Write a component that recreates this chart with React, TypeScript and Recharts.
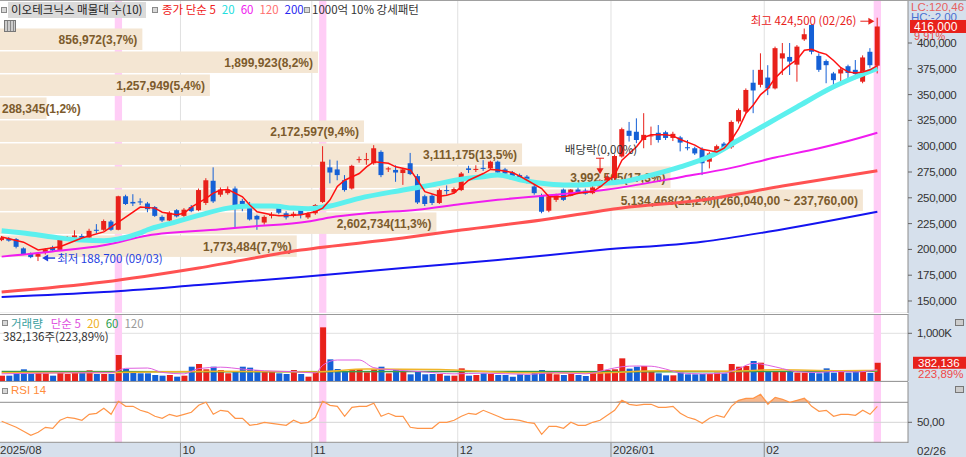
import {
  Area,
  Bar,
  CartesianGrid,
  Cell,
  ComposedChart,
  Line,
  ReferenceArea,
  ReferenceDot,
  ReferenceLine,
  XAxis,
  YAxis,
} from "recharts";

// trading days shown on the chart
const aug2025 = [27, 28, 29];
const sep2025 = [1, 2, 3, 4, 5, 8, 9, 10, 11, 12, 15, 16, 17, 18, 19, 22, 23, 24, 25, 26, 29, 30];
const oct2025 = [1, 2, 10, 13, 14, 15, 16, 17, 20, 21, 22, 23, 24, 27, 28, 29, 30, 31];
const nov2025 = [3, 4, 5, 6, 7, 10, 11, 12, 13, 14, 17, 18, 19, 20, 21, 24, 25, 26, 27, 28];
const dec2025 = [1, 2, 3, 4, 5, 8, 9, 10, 11, 12, 15, 16, 17, 18, 19, 22, 23, 24, 26, 29, 30];
const jan2026 = [2, 5, 6, 7, 8, 9, 12, 13, 14, 15, 16, 19, 20, 21, 22, 23, 26, 27, 28, 29, 30];
const feb2026 = [2, 3, 4, 5, 6, 9, 10, 11, 12, 13, 19, 20, 23, 24, 25, 26];

const tradingMonths: [string, number[]][] = [
  ["2025/08", aug2025],
  ["2025/09", sep2025],
  ["2025/10", oct2025],
  ["2025/11", nov2025],
  ["2025/12", dec2025],
  ["2026/01", jan2026],
  ["2026/02", feb2026],
];

const opens = [
  209000, 210500, 210000, 201000, 196000, 193000, 197000, 202000, 199500, 210000,
  211500, 213000, 211500, 219000, 219000, 227000, 219000, 251500, 246000, 246500,
  244500, 241000, 231500, 228000, 238000, 232500, 241000, 238000, 245000, 266500,
  253000, 254500, 259000, 247000, 244000, 232500, 226000, 232500, 241500, 235000,
  232500, 239000, 231000, 235000, 246000, 279500, 277500, 267000, 259000, 286500,
  286500, 283500, 294500, 277500, 277000, 274000, 283500, 271000, 251500, 252000,
  245000, 257500, 255000, 257500, 278500, 277000, 279000, 278500, 285000, 277500,
  274500, 272000, 270500, 261000, 252500, 237500, 248000, 258000, 252000, 258000,
  257000, 254500, 261000, 264500, 269000, 290000, 315000, 314000, 306000, 309500,
  313000, 313500, 308000, 308500, 299000, 298000, 297000, 285000, 294500, 302500,
  299000, 324000, 333500, 361500, 359500, 366500, 356000, 385000, 386500, 379000,
  403500, 417500, 387500, 382500, 370500, 370500, 377500, 374000, 362500, 391500,
  378000,
];

const highs = [
  213000, 212000, 211000, 202000, 197000, 196500, 201000, 203500, 210500, 213000,
  218500, 215000, 220000, 224500, 229000, 228500, 252000, 253000, 253500, 249500,
  246000, 242000, 233000, 237000, 239000, 240000, 243000, 259000, 269000, 279500,
  260000, 261000, 261000, 249000, 246000, 233500, 233000, 236000, 243000, 237000,
  236500, 241000, 236000, 244000, 300000, 287000, 286000, 272000, 282000, 290000,
  293500, 301000, 296000, 280000, 281500, 279000, 293500, 273000, 253000, 253500,
  259000, 262000, 260000, 275000, 281000, 281500, 286500, 286000, 286000, 279000,
  276000, 273500, 272000, 262500, 254000, 253000, 254000, 259000, 258500, 260000,
  259000, 261500, 268000, 273000, 292000, 318000, 323500, 327000, 332000, 319000,
  320500, 315000, 314000, 310000, 306000, 299500, 299000, 294500, 301500, 304000,
  325000, 336500, 356000, 374000, 390000, 378500, 396500, 400000, 400000, 398000,
  414000, 418000, 390000, 384000, 372000, 376000, 379000, 383500, 388000, 395000,
  424500,
];

const lows = [
  208000, 207500, 201000, 194500, 191500, 188700, 195000, 198000, 199000, 208500,
  209000, 208500, 211000, 215500, 218000, 218000, 218500, 243000, 242000, 243000,
  236000, 231500, 226500, 227000, 231000, 231500, 236000, 237000, 243000, 245000,
  251000, 253000, 221000, 237000, 228000, 219000, 224000, 230000, 234000, 229000,
  231000, 230000, 229500, 233500, 245000, 264000, 267000, 256000, 258000, 284000,
  282000, 282000, 270000, 275000, 265500, 262500, 272000, 244000, 242000, 243000,
  244000, 253000, 254000, 256500, 274000, 275000, 276000, 277000, 273000, 272000,
  268500, 266500, 264000, 253000, 235000, 236000, 246000, 247000, 251500, 253500,
  253000, 253500, 260000, 263500, 267000, 289000, 304500, 303000, 298000, 301000,
  303500, 306000, 305000, 295000, 296000, 291500, 272000, 278500, 293000, 295500,
  297500, 322000, 332000, 332000, 357000, 349500, 355000, 369000, 369000, 362500,
  402000, 389000, 372000, 361000, 358500, 361000, 365000, 365000, 361000, 376000,
  370500,
];

const closes = [
  211500, 208500, 202500, 195500, 192500, 195500, 200000, 199000, 209500, 211500,
  213500, 209500, 218000, 218000, 227500, 219000, 251500, 244000, 244500, 245500,
  239000, 232500, 228000, 235500, 232000, 238500, 237000, 257500, 267000, 246500,
  258000, 258000, 243000, 243000, 229000, 229000, 231500, 233500, 235500, 231000,
  234500, 233500, 234500, 243000, 285000, 274500, 272000, 257500, 281000, 287500,
  287500, 298000, 272000, 278500, 274500, 277500, 273000, 245500, 244000, 245000,
  257500, 256500, 258500, 273500, 277000, 278000, 278000, 285000, 274500, 273500,
  270000, 268000, 265500, 254500, 236500, 251500, 252500, 248000, 258000, 254500,
  254000, 260000, 265500, 270000, 290500, 316500, 310000, 306000, 311000, 310500,
  306000, 308000, 312000, 303500, 298000, 293000, 283500, 293000, 300000, 297000,
  323500, 335000, 354500, 354000, 374000, 356000, 395000, 390000, 382000, 396500,
  408500, 391500, 374000, 378500, 364000, 374500, 371000, 370000, 386000, 378500,
  416000,
];

const volumes = [
  112000, 112000, 161000, 245000, 147000, 196000, 161000, 112000, 196000, 147000,
  196000, 182000, 224000, 147000, 147000, 147000, 545000, 252000, 175000, 161000,
  161000, 126000, 112000, 126000, 91000, 112000, 300000, 357000, 245000, 300000,
  230000, 161000, 196000, 300000, 280000, 230000, 196000, 196000, 161000, 147000,
  230000, 147000, 91000, 182000, 1125000, 454000, 252000, 196000, 230000, 252000,
  182000, 245000, 300000, 161000, 230000, 196000, 140000, 196000, 140000, 147000,
  147000, 112000, 112000, 265000, 112000, 126000, 161000, 147000, 126000, 126000,
  91000, 140000, 126000, 175000, 230000, 196000, 140000, 126000, 147000, 126000,
  105000, 196000, 357000, 230000, 245000, 475000, 259000, 300000, 315000, 196000,
  161000, 119000, 119000, 175000, 140000, 140000, 147000, 147000, 175000, 161000,
  357000, 300000, 315000, 419000, 384000, 196000, 196000, 196000, 196000, 175000,
  175000, 175000, 161000, 265000, 175000, 196000, 175000, 196000, 196000, 170680,
  382136,
];

const rsi14 = [
  51, 48, 45, 41, 37, 40, 45, 44, 52, 55,
  54, 52, 58, 59, 64, 58, 71, 66, 66, 62,
  60, 56, 54, 58, 56, 58, 60, 67, 70, 58,
  62, 61, 54, 54, 47, 48, 50, 49, 48, 47,
  52, 49, 50, 55, 71, 67, 66, 56, 65, 66,
  66, 69, 56, 59, 56, 56, 45, 44, 44, 44,
  50, 50, 52, 56, 59, 58, 62, 59, 56, 53,
  53, 52, 50, 49, 38, 46, 46, 44, 50, 47,
  47, 50, 52, 57, 62, 72, 68, 67, 68, 68,
  65, 65, 66, 59, 55, 53, 49, 54, 57, 55,
  66, 72, 74, 74, 78, 68, 75, 73, 70, 72,
  74, 66, 61, 62, 56, 58, 58, 57, 62, 58,
  66,
];

// moving averages: [day index, value]
const ma5Points: [number, number][] = [
  [0, 212000], [3, 207000], [5, 199500], [8, 202500], [11, 211000], [14, 217000], [16, 226500],
  [19, 241000], [21, 240000], [22, 236000], [24, 233500], [25, 235000], [26, 241000], [28, 249500],
  [29, 254500], [30, 257500], [31, 258000], [33, 251000], [34, 243000], [35, 236500], [37, 233500],
  [38, 232500], [40, 233000], [41, 233500], [43, 236500], [44, 240000], [45, 248000], [46, 261000],
  [47, 267000], [49, 273500], [50, 280000], [51, 285000], [53, 283500], [54, 280000], [56, 277000],
  [57, 267000], [58, 256000], [60, 251500], [61, 252500], [62, 254500], [64, 267000], [66, 273500],
  [67, 277500], [68, 277000], [70, 274500], [71, 271000], [72, 267000], [74, 259000], [75, 251000],
  [77, 251000], [78, 252500], [79, 254500], [81, 256000], [82, 260500], [84, 272000], [85, 286500],
  [87, 299500], [88, 308500], [89, 311000], [91, 311000], [92, 310000], [93, 306500], [95, 301000],
  [96, 297000], [98, 294500], [99, 298000], [100, 306000], [101, 317000], [102, 332000],
  [103, 340000], [104, 350000], [105, 356000], [106, 366000], [107, 373000], [108, 379000],
  [109, 384000], [110, 393000], [111, 394000], [112, 391000], [113, 389000], [114, 383000],
  [115, 376000], [116, 372000], [117, 371000], [118, 372000], [119, 374000], [120, 378000],
];

const ma20Points: [number, number][] = [
  [0, 218000], [4, 215000], [7, 212000], [11, 209000], [14, 208500], [16, 210000], [19, 216000],
  [20, 219000], [23, 225000], [27, 233000], [31, 240000], [34, 242000], [37, 242000], [40, 240000],
  [42, 239500], [45, 242000], [49, 249500], [55, 257500], [59, 262500], [63, 268000], [66, 270500],
  [68, 272000], [71, 267500], [74, 264000], [77, 262500], [79, 262500], [82, 264000], [85, 265500],
  [89, 272000], [93, 280000], [97, 290000], [101, 306000], [105, 322000], [109, 338000],
  [114, 357500], [117, 367000], [120, 375500],
];

const ma60Points: [number, number][] = [
  [0, 193000], [7, 198000], [14, 204000], [20, 213500], [30, 219500], [34, 222000], [42, 227000],
  [45, 231000], [50, 235000], [57, 238500], [63, 244000], [68, 248000], [75, 252500], [83, 258000],
  [93, 270000], [100, 279000], [106, 289000], [112, 298000], [116, 305000], [120, 313000],
];

const ma120Points: [number, number][] = [
  [0, 158700], [14, 168400], [27, 182000], [41, 199400], [55, 211000], [63, 218800], [74, 228500],
  [85, 240100], [96, 247900], [107, 261400], [120, 276300],
];

const ma200Points: [number, number][] = [
  [0, 153900], [14, 158700], [27, 165500], [41, 173300], [55, 182000], [68, 189700], [82, 199400],
  [96, 207400], [105, 217100], [120, 236500],
];

const volMa5Points: [number, number][] = [
  [0, 150000], [8, 170000], [15, 175000], [17, 265000], [20, 272000], [22, 180000], [25, 150000],
  [27, 260000], [30, 290000], [33, 250000], [36, 215000], [40, 195000], [43, 170000], [44, 330000],
  [46, 440000], [49, 440000], [51, 280000], [54, 230000], [58, 190000], [62, 150000], [66, 165000],
  [72, 140000], [76, 175000], [80, 150000], [83, 240000], [85, 300000], [87, 315000], [89, 310000],
  [91, 250000], [93, 170000], [96, 150000], [99, 165000], [101, 260000], [103, 370000],
  [105, 330000], [107, 260000], [109, 195000], [112, 180000], [114, 200000], [117, 190000],
  [120, 235000],
];

const volMa20Points: [number, number][] = [
  [0, 175000], [16, 180000], [30, 205000], [43, 190000], [50, 250000], [60, 240000], [70, 175000],
  [82, 170000], [90, 215000], [100, 205000], [106, 235000], [115, 215000], [120, 220000],
];

const volMa60Points: [number, number][] = [
  [0, 200000], [30, 195000], [60, 200000], [90, 195000], [120, 205000],
];

// 매물대 (volume profile) bins, top to bottom
const profileEdges = [416000, 393720, 371440, 349160, 326880, 304600, 282320, 260040, 237760, 215480, 193200];
const profileVolumes = [856972, 1899923, 1257949, 288345, 2172597, 3111175, 3992565, 5134468, 2602734, 1773484];
const profileShares = ["3,7%", "8,2%", "5,4%", "1,2%", "9,4%", "13,5%", "17,3%", "22,2%", "11,3%", "7,7%"];

const monthTicks = ["2025/08/27", "2025/10/01", "2025/11/03", "2025/12/01", "2026/01/02", "2026/02/02"];
const monthTickLabels = ["2025/08", "10", "11", "12", "2026/01", "02"];
const priceTicks = [150000, 175000, 200000, 225000, 250000, 275000, 300000, 325000, 350000, 375000, 400000];
const strongDays = ["2025/09/18", "2025/11/04", "2026/02/26"];
const exDividendDay = "2025/12/29";

const UP = "#e8211b";
const DOWN = "#1560d6";
const GRID = "#e0e0e0";
const AXIS_BG = "#d6e0ec";
const PINK = "#ffcdf6";
const FONT = "'Liberation Sans', 'Noto Sans CJK KR', sans-serif";
const KFONT = "'Noto Sans CJK KR', 'Liberation Sans', sans-serif";

const CHART_LEFT = -2;
const CHART_W = 968;
const AXIS_W = 58;
const PAD_R = 27;
const NO_MARGIN = { top: 0, right: 0, bottom: 0, left: 0 };

const PRICE_DOMAIN: [number, number] = [138372, 441667];
const VOLUME_DOMAIN: [number, number] = [0, 1404600];
const RSI_DOMAIN: [number, number] = [29.3, 90.3];
// profile volume that would fill the width of the candle area
const VP_FULL = 5242000;

const minorPriceTicks = Array.from({ length: 61 }, (_, k) => 140000 + k * 5000);
const minorVolumeTicks = [200000, 400000, 600000, 800000, 1200000, 1400000];
const minorRsiTicks = [30, 40, 60, 70, 80, 90];

const dates = tradingMonths.flatMap(([ym, days]) =>
  days.map((d) => `${ym}/${String(d).padStart(2, "0")}`),
);

const rows: any[] = dates.map((date, i) => ({
  date,
  open: opens[i],
  high: highs[i],
  low: lows[i],
  close: closes[i],
  volume: volumes[i],
  rsi: rsi14[i],
}));

const attach = (key: string, points: [number, number][]) => {
  points.forEach(([i, v]) => {
    rows[i][key] = v;
  });
};
attach("ma5", ma5Points);
attach("ma20", ma20Points);
attach("ma60", ma60Points);
attach("ma120", ma120Points);
attach("ma200", ma200Points);
attach("vma5", volMa5Points);
attach("vma20", volMa20Points);
attach("vma60", volMa60Points);

const fmt = (v: number) => v.toLocaleString("en-US");
const last = rows.length - 1;
const lastClose = closes[last];
const changePct = ((closes[last] / closes[last - 1] - 1) * 100).toFixed(2).replace(".", ",");
const volumePct = ((volumes[last] / volumes[last - 1]) * 100).toFixed(2).replace(".", ",");
const maxHigh = Math.max(...highs);
const maxIdx = highs.indexOf(maxHigh);
const minLow = Math.min(...lows);
const minIdx = lows.indexOf(minLow);
const shortDate = (d: string) => d.slice(5);

const maxProfile = Math.max(...profileVolumes);
const profileText = profileVolumes.map((v, k) => {
  const base = `${fmt(v)}(${profileShares[k]})`;
  return v === maxProfile ? `${base}(${fmt(profileEdges[k])},00 ~ ${fmt(profileEdges[k + 1])},00)` : base;
});

const Candle = (props: any) => {
  const { x, y, width, height, payload } = props;
  const top = Math.min(y, y + height);
  const h = Math.abs(height);
  const { open, close, high, low } = payload;
  const color = close >= open ? UP : DOWN;
  const k = high > low ? h / (high - low) : 0;
  const yo = top + (high - open) * k;
  const yc = top + (high - close) * k;
  const cx = x + width / 2;
  return (
    <g>
      <line x1={cx} x2={cx} y1={top} y2={top + h} stroke={color} strokeWidth={1} />
      <rect x={x} y={Math.min(yo, yc)} width={width} height={Math.max(Math.abs(yo - yc), 1)} fill={color} />
    </g>
  );
};

// the area spans the candle area; the bar takes the share of it that its volume gives
const ProfileBar = (props: any) => {
  const { x, y, width, height, text, volume } = props;
  const w = (width * volume) / VP_FULL;
  const top = Math.min(y, y + height) + 2;
  const h = Math.abs(height) - 1.5;
  const fits = w - 10 > text.length * 6;
  return (
    <g>
      <rect x={x} y={top} width={w} height={h} fill="#f4e6d3" />
      <text
        x={fits ? x + w - 5 : x + 4}
        y={top + h / 2 + 4.5}
        textAnchor={fits ? "end" : "start"}
        fontSize={12}
        fontWeight={700}
        fill="#7c5b2c"
        fontFamily={FONT}
      >
        {text}
      </text>
    </g>
  );
};

const AxisTick = (props: any) => {
  const { x, y, payload, format } = props;
  return (
    <text x={x} y={y + 4} fontSize={11.5} fill="#333" fontFamily={FONT} letterSpacing={-0.3} textAnchor="start">
      {format(payload.value)}
    </text>
  );
};

const MonthTick = (props: any) => {
  const { x, y, payload } = props;
  const k = monthTicks.indexOf(payload.value);
  const half = typeof payload.offset === "number" ? payload.offset : 0;
  const left = x - half;
  return (
    <g>
      {k > 0 && <line x1={left} x2={left} y1={y} y2={y + 14} stroke="#8a8a8a" />}
      <text x={Math.max(left + 2, 2)} y={y + 11} fontSize={11.5} fill="#333" fontFamily={FONT}>
        {monthTickLabels[k]}
      </text>
    </g>
  );
};

const PriceTag = (props: any) => {
  const vb = props.viewBox ?? props;
  const x = vb.x + vb.width;
  const y = vb.y;
  return (
    <g fontFamily={FONT}>
      <rect x={x + 2} y={y - 6.5} width={56} height={13} fill={UP} />
      <text x={x + 6} y={y + 4.5} fill="#fff" fontSize={12}>
        {fmt(lastClose)}
      </text>
      <text x={x + 6} y={y + 13.5} fill="#f04848" fontSize={11}>
        {changePct}%
      </text>
    </g>
  );
};

const VolumeTag = (props: any) => {
  const vb = props.viewBox ?? props;
  const x = vb.x + vb.width;
  const y = vb.y;
  return (
    <g fontFamily={FONT}>
      <rect x={x + 5} y={y - 6} width={53} height={12} fill={UP} />
      <text x={x + 10} y={y + 4.5} fill="#fff" fontSize={11.5}>
        {fmt(volumes[last])}
      </text>
      <text x={x + 10} y={y + 15.5} fill="#f04848" fontSize={11.5}>
        {volumePct}%
      </text>
    </g>
  );
};

const HighMark = (props: any) => {
  const { cx, cy } = props;
  return (
    <g fontFamily={KFONT}>
      <text x={cx - 21} y={cy + 7.5} textAnchor="end" fill="#e8211b" fontSize={11.5}>
        {`최고 ${fmt(maxHigh)} (${shortDate(dates[maxIdx])})`}
      </text>
      <line x1={cx - 17} x2={cx - 8} y1={cy + 3.5} y2={cy + 3.5} stroke="#e8211b" />
      <path d={`M${cx - 3},${cy + 3.5} l-6,-3.5 v7 z`} fill="#e8211b" />
    </g>
  );
};

const LowMark = (props: any) => {
  const { cx, cy } = props;
  return (
    <g fontFamily={KFONT}>
      <path d={`M${cx + 4},${cy - 3} l6,-3.5 v7 z`} fill="#1f3fe0" />
      <line x1={cx + 9} x2={cx + 17} y1={cy - 3} y2={cy - 3} stroke="#1f3fe0" strokeWidth={1.5} />
      <text x={cx + 19} y={cy + 1.5} fill="#1f3fe0" fontSize={11.5}>
        {`최저 ${fmt(minLow)} (${shortDate(dates[minIdx])})`}
      </text>
    </g>
  );
};

const DividendMark = (props: any) => {
  const { cx, cy } = props;
  return (
    <g fontFamily={KFONT}>
      <text x={cx + 1} y={cy - 25} textAnchor="middle" fill="#333" fontSize={11.5}>
        배당락(0,00%)
      </text>
      <line x1={cx - 4} x2={cx + 4} y1={cy - 21} y2={cy - 21} stroke="#e8211b" />
      <line x1={cx} x2={cx} y1={cy - 21} y2={cy - 10} stroke="#e8211b" />
      <path d={`M${cx},${cy - 5} l-3.5,-6 h7 z`} fill="#e8211b" />
    </g>
  );
};

const catAxis = (id: string) => (
  <XAxis xAxisId={id} dataKey="date" scale="band" hide padding={{ left: 0, right: PAD_R }} />
);

const monthLines = (xId: string, yId: string) =>
  monthTicks.slice(1).map((d) => (
    <ReferenceLine key={`m${d}`} xAxisId={xId} yAxisId={yId} x={d} position="start" stroke={GRID} zIndex={-90} />
  ));

const strongBands = (xId: string, yId: string) =>
  strongDays.map((d) => (
    <ReferenceArea
      key={`s${d}`}
      xAxisId={xId}
      yAxisId={yId}
      x1={d}
      x2={d}
      fill={PINK}
      fillOpacity={1}
      stroke="none"
      zIndex={-80}
    />
  ));

const maLine = (key: string, color: string, width: number, type: "linear" | "monotone") => (
  <Line
    xAxisId="cat"
    yAxisId="price"
    dataKey={key}
    stroke={color}
    strokeWidth={width}
    dot={false}
    activeDot={false}
    connectNulls
    type={type}
    isAnimationActive={false}
  />
);

// back layer of the price panel: grid, 강세패턴 bands and the 매물대 bars
function PriceBackdrop() {
  return (
    <ComposedChart width={CHART_W} height={313} data={rows} margin={NO_MARGIN}>
      {catAxis("cat")}
      <YAxis
        yAxisId="price"
        orientation="right"
        width={AXIS_W}
        domain={PRICE_DOMAIN}
        allowDataOverflow
        ticks={priceTicks}
        interval={0}
        tick={false}
        tickLine={false}
        axisLine={false}
      />
      <CartesianGrid xAxisId="cat" yAxisId="price" vertical={false} stroke={GRID} />
      {monthLines("cat", "price")}
      {strongBands("cat", "price")}
      {profileVolumes.map((v, k) => (
        <ReferenceArea
          key={`p${k}`}
          xAxisId="cat"
          yAxisId="price"
          y1={profileEdges[k + 1]}
          y2={profileEdges[k]}
          ifOverflow="visible"
          zIndex={-70}
          shape={(p: any) => <ProfileBar {...p} text={profileText[k]} volume={v} />}
        />
      ))}
      <Bar xAxisId="cat" yAxisId="price" dataKey="close" fill="none" barSize={5} isAnimationActive={false} />
    </ComposedChart>
  );
}

function PricePanel() {
  return (
    <ComposedChart width={CHART_W} height={313} data={rows} margin={NO_MARGIN}>
      {catAxis("cat")}
      <YAxis
        yAxisId="minor"
        orientation="right"
        width={0}
        domain={PRICE_DOMAIN}
        allowDataOverflow
        ticks={minorPriceTicks}
        interval={0}
        tick={false}
        tickSize={2}
        axisLine={false}
        tickLine={{ stroke: "#777" }}
      />
      <YAxis
        yAxisId="price"
        orientation="right"
        width={AXIS_W}
        domain={PRICE_DOMAIN}
        allowDataOverflow
        ticks={priceTicks}
        interval={0}
        tickSize={4}
        tickMargin={5}
        axisLine={{ stroke: "#8c8c8c" }}
        tickLine={{ stroke: "#666" }}
        tick={<AxisTick format={fmt} />}
      />
      {maLine("ma200", "#1414f0", 2, "monotone")}
      {maLine("ma120", "#ff5252", 3, "monotone")}
      {maLine("ma60", "#f01cf0", 2, "monotone")}
      {maLine("ma20", "#5cf0ee", 5, "monotone")}
      <Bar
        xAxisId="cat"
        yAxisId="price"
        dataKey={(d: any) => [d.low, d.high]}
        barSize={5}
        shape={Candle}
        isAnimationActive={false}
      />
      {maLine("ma5", "#ff1010", 1.5, "linear")}
      <ReferenceDot xAxisId="cat" yAxisId="price" x={dates[maxIdx]} y={maxHigh} r={0} shape={HighMark} />
      <ReferenceDot xAxisId="cat" yAxisId="price" x={dates[minIdx]} y={minLow} r={0} shape={LowMark} />
      <ReferenceDot
        xAxisId="cat"
        yAxisId="price"
        x={exDividendDay}
        y={highs[dates.indexOf(exDividendDay)]}
        r={0}
        shape={DividendMark}
      />
      <ReferenceLine xAxisId="cat" yAxisId="price" y={lastClose} stroke="none" label={<PriceTag />} />
    </ComposedChart>
  );
}

function VolumePanel() {
  return (
    <ComposedChart width={CHART_W} height={67} data={rows} margin={NO_MARGIN}>
      {catAxis("cat")}
      <YAxis
        yAxisId="minor"
        orientation="right"
        width={0}
        domain={VOLUME_DOMAIN}
        allowDataOverflow
        ticks={minorVolumeTicks}
        interval={0}
        tick={false}
        tickSize={2}
        axisLine={false}
        tickLine={{ stroke: "#777" }}
      />
      <YAxis
        yAxisId="vol"
        orientation="right"
        width={AXIS_W}
        domain={VOLUME_DOMAIN}
        allowDataOverflow
        ticks={[1000000]}
        interval={0}
        tickSize={4}
        tickMargin={5}
        axisLine={{ stroke: "#8c8c8c" }}
        tickLine={{ stroke: "#666" }}
        tick={<AxisTick format={(v: number) => `${fmt(v / 1000)}K`} />}
      />
      <CartesianGrid xAxisId="cat" yAxisId="vol" vertical={false} stroke={GRID} />
      {monthLines("cat", "vol")}
      {strongBands("cat", "vol")}
      <Bar xAxisId="cat" yAxisId="vol" dataKey="volume" barSize={6} isAnimationActive={false}>
        {rows.map((r) => (
          <Cell key={r.date} fill={r.close >= r.open ? UP : DOWN} />
        ))}
      </Bar>
      <Line xAxisId="cat" yAxisId="vol" dataKey="vma60" stroke="#3c9c48" strokeWidth={1.5} dot={false} connectNulls isAnimationActive={false} />
      <Line xAxisId="cat" yAxisId="vol" dataKey="vma20" stroke="#f0b428" strokeWidth={1.5} dot={false} connectNulls type="monotone" isAnimationActive={false} />
      <Line xAxisId="cat" yAxisId="vol" dataKey="vma5" stroke="#e060e0" strokeWidth={1} dot={false} connectNulls type="monotone" isAnimationActive={false} />
      <ReferenceLine xAxisId="cat" yAxisId="vol" y={volumes[last]} stroke="none" label={<VolumeTag />} />
    </ComposedChart>
  );
}

function RsiPanel() {
  return (
    <ComposedChart width={CHART_W} height={75} data={rows} margin={NO_MARGIN}>
      <XAxis
        xAxisId="cat"
        dataKey="date"
        scale="band"
        height={14}
        padding={{ left: 0, right: PAD_R }}
        ticks={monthTicks}
        interval={0}
        tickSize={0}
        tickMargin={0}
        axisLine={false}
        tickLine={false}
        tick={<MonthTick />}
      />
      <YAxis
        yAxisId="minor"
        orientation="right"
        width={0}
        domain={RSI_DOMAIN}
        allowDataOverflow
        ticks={minorRsiTicks}
        interval={0}
        tick={false}
        tickSize={2}
        axisLine={false}
        tickLine={{ stroke: "#777" }}
      />
      <YAxis
        yAxisId="rsi"
        orientation="right"
        width={AXIS_W}
        domain={RSI_DOMAIN}
        allowDataOverflow
        ticks={[50]}
        interval={0}
        tickSize={4}
        tickMargin={5}
        axisLine={{ stroke: "#8c8c8c" }}
        tickLine={{ stroke: "#666" }}
        tick={<AxisTick format={(v: number) => v.toFixed(2).replace(".", ",")} />}
      />
      {monthLines("cat", "rsi")}
      {strongBands("cat", "rsi")}
      <ReferenceLine xAxisId="cat" yAxisId="rsi" y={50} stroke="#d4d4d4" />
      <ReferenceLine xAxisId="cat" yAxisId="rsi" y={70} stroke="#8e8e8e" />
      <ReferenceLine xAxisId="cat" yAxisId="rsi" y={30} stroke="#8e8e8e" />
      <Bar xAxisId="cat" yAxisId="rsi" dataKey="rsi" fill="none" barSize={5} isAnimationActive={false} />
      <Area
        xAxisId="cat"
        yAxisId="rsi"
        dataKey={(d: any) => [70, Math.max(70, d.rsi)]}
        stroke="none"
        fill="#f6b082"
        fillOpacity={0.9}
        type="linear"
        isAnimationActive={false}
      />
      <Line xAxisId="cat" yAxisId="rsi" dataKey="rsi" stroke="#ff9548" strokeWidth={1.2} dot={false} type="linear" isAnimationActive={false} />
    </ComposedChart>
  );
}

const abs = (left: number, top: number, extra: any = {}) => ({
  position: "absolute" as const,
  left,
  top,
  whiteSpace: "nowrap" as const,
  lineHeight: "12px",
  fontSize: 11.5,
  fontFamily: KFONT,
  ...extra,
});

const Bullet = ({ left, top }: { left: number; top: number }) => (
  <div style={{ position: "absolute", left, top, width: 4, height: 4, border: "1px solid #8a8a8a", background: "#d8d8d8" }} />
);

export default function App() {
  return (
    <div style={{ position: "fixed", left: 0, top: 0, width: 966, height: 457, background: "#fff", overflow: "hidden", fontFamily: FONT }}>
      <div style={{ position: "absolute", left: 908, top: 0, width: 58, height: 457, background: AXIS_BG }} />
      <div style={{ position: "absolute", left: 0, top: 443, width: 966, height: 14, background: AXIS_BG }} />

      <div style={abs(911, 1, { color: "#e86060", fontFamily: FONT })}>LC:120,46</div>
      <div style={abs(911, 11, { color: "#4a70d0", fontFamily: FONT })}>HC:-2,00</div>

      <div style={{ position: "absolute", left: CHART_LEFT, top: 0 }}>
        <PriceBackdrop />
      </div>
      <div style={{ position: "absolute", left: CHART_LEFT, top: 0 }}>
        <PricePanel />
      </div>
      <div style={{ position: "absolute", left: CHART_LEFT, top: 314 }}>
        <VolumePanel />
      </div>
      <div style={{ position: "absolute", left: CHART_LEFT, top: 382 }}>
        <RsiPanel />
      </div>

      <div style={{ position: "absolute", left: 0, top: 0, width: 966, height: 1, background: "#a0a0a0" }} />
      <div style={{ position: "absolute", left: 0, top: 314, width: 908, height: 1, background: "#9a9a9a" }} />
      <div style={{ position: "absolute", left: 0, top: 381, width: 908, height: 1, background: "#9a9a9a" }} />

      {/* price panel legend */}
      <Bullet left={1} top={7} />
      <div style={abs(8, 2, { background: "#dadada", color: "#222", padding: "1px 3px", height: 14 })}>이오테크닉스 매물대 수(10)</div>
      <Bullet left={152} top={7} />
      <div style={abs(162, 3)}>
        <span style={{ color: "#f02020" }}>종가 단순 5</span>
        <span style={{ color: "#22dede", marginLeft: 6 }}>20</span>
        <span style={{ color: "#f020f0", marginLeft: 6 }}>60</span>
        <span style={{ color: "#ff7070", marginLeft: 6 }}>120</span>
        <span style={{ color: "#2828f0", marginLeft: 6 }}>200</span>
      </div>
      <Bullet left={304} top={7} />
      <div style={abs(312, 3, { color: "#333" })}>1000억 10% 강세패턴</div>
      <div style={{ position: "absolute", left: 4, top: 20, width: 10, height: 10, border: "1px solid #777", background: "repeating-linear-gradient(90deg,#ccc 0 2px,#888 2px 3px)" }} />

      {/* volume panel legend */}
      <Bullet left={2} top={320} />
      <div style={abs(11, 317)}>
        <span style={{ color: "#3aa0a0" }}>거래량</span>
        <span style={{ color: "#e050e0", marginLeft: 8 }}>단순 5</span>
        <span style={{ color: "#f0b020", marginLeft: 6 }}>20</span>
        <span style={{ color: "#30a050", marginLeft: 6 }}>60</span>
        <span style={{ color: "#999", marginLeft: 6 }}>120</span>
      </div>
      <div style={abs(3, 330, { color: "#333" })}>{`${fmt(volumes[last])}주(${volumePct}%)`}</div>

      {/* rsi legend */}
      <Bullet left={2} top={388} />
      <div style={abs(11, 384, { color: "#ff8c3c", fontFamily: FONT })}>RSI 14</div>

      <div style={{ position: "absolute", left: 955, top: 319, width: 7, height: 5, border: "1px solid #777", background: "#ccc" }} />
      <div style={{ position: "absolute", left: 955, top: 386, width: 7, height: 5, border: "1px solid #777", background: "#ccc" }} />
      <div style={abs(917, 445, { color: "#333", fontFamily: FONT })}>{shortDate(dates[last])}</div>
    </div>
  );
}
